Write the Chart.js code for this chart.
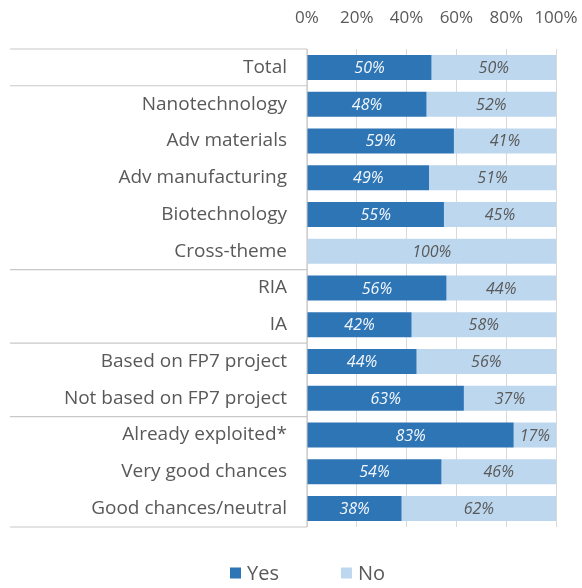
<!DOCTYPE html>
<html>
<head>
<meta charset="utf-8">
<script src="https://cdn.jsdelivr.net/npm/chart.js@4.4.1/dist/chart.umd.min.js"></script>
<style>
  html, body { margin: 0; padding: 0; background: #fff; }
  #wrap { width: 582px; height: 588px; position: relative; }
</style>
</head>
<body>
<div id="wrap"><canvas id="chart"></canvas></div>
<script>
// categories, top to bottom
const categories = [
  "Total", "Nanotechnology", "Adv materials", "Adv manufacturing", "Biotechnology",
  "Cross-theme", "RIA", "IA", "Based on FP7 project", "Not based on FP7 project",
  "Already exploited*", "Very good chances", "Good chances/neutral"
];
const yesValues = [50, 48, 59, 49, 55, 0, 56, 42, 44, 63, 83, 54, 38];
const noValues  = [50, 52, 41, 51, 45, 100, 44, 58, 56, 37, 17, 46, 62];
const seriesNames = ["Yes", "No"];
const xTicks = [0, 20, 40, 60, 80, 100];
// separator lines in the label box go below these rows
const groupBreaks = [0, 5, 7, 9];

const YES_COLOR = "#2E75B6";
const NO_COLOR  = "#BDD7EE";
const TEXT_GRAY = "#595959";
const LINE_GRAY = "#c8c8c8";
const FONT = "'Open Sans', sans-serif";

// label box on the left: top/bottom edges, group separators and right edge
const labelBox = {
  id: "labelBox",
  beforeDatasetsDraw(chart) {
    const { ctx, chartArea, scales } = chart;
    const y = scales.y;
    const left = 10;
    const right = chartArea.left;
    const edge = (i) => (y.getPixelForTick(i) + y.getPixelForTick(i + 1)) / 2;

    ctx.save();
    ctx.strokeStyle = LINE_GRAY;
    ctx.lineWidth = 1.2;
    const rows = [chartArea.top, chartArea.bottom].concat(groupBreaks.map(edge));
    rows.forEach(py => {
      ctx.beginPath();
      ctx.moveTo(left, py);
      ctx.lineTo(right, py);
      ctx.stroke();
    });
    ctx.beginPath();
    ctx.moveTo(right, chartArea.top);
    ctx.lineTo(right, chartArea.bottom);
    ctx.stroke();
    ctx.restore();
  }
};

// value labels inside the bars
const barLabels = {
  id: "barLabels",
  afterDatasetsDraw(chart) {
    const { ctx } = chart;
    ctx.save();
    ctx.font = "italic 16px " + FONT;
    ctx.textAlign = "center";
    ctx.textBaseline = "middle";
    chart.data.datasets.forEach((ds, di) => {
      const meta = chart.getDatasetMeta(di);
      ctx.fillStyle = di === 0 ? "#f4f7fc" : TEXT_GRAY;
      meta.data.forEach((bar, i) => {
        const v = ds.data[i];
        if (!v) return;
        const p = bar.getCenterPoint();
        ctx.fillText(v + "%", p.x, p.y + 1);
      });
    });
    ctx.restore();
  }
};

// legend drawn under the chart, squares + names
const bottomLegend = {
  id: "bottomLegend",
  afterDraw(chart) {
    const { ctx } = chart;
    const startX = 230, cy = 573, box = 11, gap = 6, itemGap = 62;
    ctx.save();
    ctx.font = "20px " + FONT;
    ctx.textBaseline = "middle";
    let x = startX;
    chart.data.datasets.forEach(ds => {
      ctx.fillStyle = ds.backgroundColor;
      ctx.fillRect(x, cy - box / 2, box, box);
      ctx.fillStyle = TEXT_GRAY;
      ctx.fillText(ds.label, x + box + gap, cy + 1);
      x += box + gap + ctx.measureText(ds.label).width + itemGap;
    });
    ctx.restore();
  }
};

function initChart() {
  const ctx = document.getElementById("chart").getContext("2d");
  new Chart(ctx, {
    type: "bar",
    data: {
      labels: categories,
      datasets: [
        { label: seriesNames[0], data: yesValues, backgroundColor: YES_COLOR },
        { label: seriesNames[1], data: noValues,  backgroundColor: NO_COLOR }
      ]
    },
    options: {
      indexAxis: "y",
      animation: false,
      responsive: true,
      maintainAspectRatio: false,
      categoryPercentage: 1,
      barPercentage: 0.68,
      layout: { padding: { left: 0, right: 26, top: 0, bottom: 61 } },
      plugins: {
        legend: { display: false },
        tooltip: { enabled: false }
      },
      scales: {
        x: {
          position: "top",
          stacked: true,
          min: 0,
          max: 100,
          afterBuildTicks: (s) => { s.ticks = xTicks.map(v => ({ value: v })); },
          afterFit: (s) => {
            s.height = 49;
            s.paddingLeft = 0;
            s.paddingRight = 0;
          },
          grid: { color: "#d9d9d9", lineWidth: 1, drawTicks: false },
          border: { display: false },
          ticks: {
            padding: 21,
            color: TEXT_GRAY,
            font: { family: FONT, size: 17 },
            maxRotation: 0,
            callback: (v) => v + "%"
          }
        },
        y: {
          stacked: true,
          afterFit: (s) => { s.width = 307; },
          grid: { display: false },
          border: { display: false },
          ticks: {
            padding: 12,
            color: TEXT_GRAY,
            font: { family: FONT, size: 19 }
          }
        }
      }
    },
    plugins: [labelBox, barLabels, bottomLegend]
  });
}

window.addEventListener("load", initChart);
</script>
</body>
</html>
